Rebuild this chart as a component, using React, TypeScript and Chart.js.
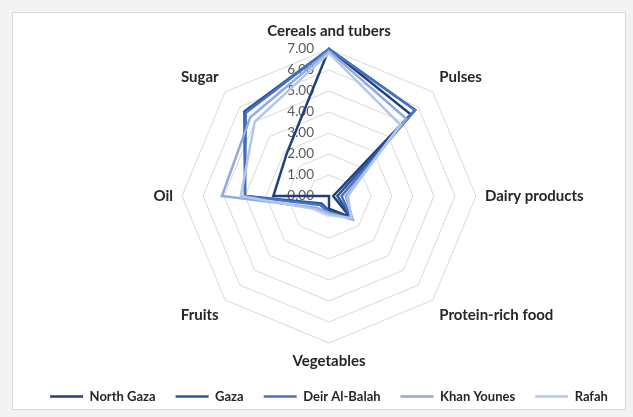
import React, { useEffect, useRef } from "react";
import { Chart, registerables } from "chart.js";

Chart.register(...registerables);

const categories = [
  "Cereals and tubers",
  "Pulses",
  "Dairy products",
  "Protein-rich food",
  "Vegetables",
  "Fruits",
  "Oil",
  "Sugar",
];

const seriesNames = ["North Gaza", "Gaza", "Deir Al-Balah", "Khan Younes", "Rafah"];

const northGaza = [7.0, 5.5, 0.2, 1.4, 0.6, 0.0, 2.65, 2.85];
const gaza = [7.0, 5.8, 0.4, 1.5, 0.7, 0.5, 4.0, 5.7];
const deirAlBalah = [7.0, 5.8, 0.6, 1.5, 0.8, 0.6, 4.0, 5.6];
const khanYounes = [6.9, 5.2, 0.8, 1.6, 0.8, 0.8, 5.1, 5.3];
const rafah = [6.8, 4.8, 0.9, 1.5, 0.9, 0.9, 4.2, 5.0];

const seriesValues = [northGaza, gaza, deirAlBalah, khanYounes, rafah];
const seriesColors = ["#233F7A", "#2F5597", "#4472C4", "#8FAADC", "#B4C7E7"];

const tickMin = 0;
const tickMax = 7;
const tickStep = 1;

const tickLabelPlugin = {
  id: "tickLabelPlugin",
  beforeDatasetsDraw(chart: any) {
    const s = chart.scales.r;
    const ctx = chart.ctx;
    ctx.save();
    ctx.font = "13.5px Lato";
    ctx.fillStyle = "#595959";
    ctx.textAlign = "right";
    ctx.textBaseline = "middle";
    for (const t of s.ticks) {
      const d = s.getDistanceFromCenterForValue(t.value);
      ctx.fillText(Number(t.value).toFixed(2), s.xCenter - 15, s.yCenter - d);
    }
    ctx.restore();
  },
};

export default function App() {
  const canvasRef = useRef<HTMLCanvasElement | null>(null);

  useEffect(() => {
    document.body.style.margin = "0";
    document.body.style.background = "#f3f3f3";
    const canvas = canvasRef.current;
    if (!canvas) return;
    const chart = new Chart(canvas, {
      type: "radar",
      data: {
        labels: categories,
        datasets: seriesNames.map((name, i) => ({
          label: name,
          data: seriesValues[i],
          borderColor: seriesColors[i],
          backgroundColor: seriesColors[i],
          borderWidth: 2.5,
          pointRadius: 0,
          fill: false,
          order: 5 - i,
        })),
      },
      plugins: [tickLabelPlugin],
      options: {
        animation: false,
        responsive: false,
        maintainAspectRatio: false,
        layout: { padding: { top: 22, bottom: 4, left: 25, right: 0 } },
        plugins: {
          tooltip: { enabled: false },
          legend: {
            position: "bottom",
            labels: {
              usePointStyle: true,
              pointStyle: "line",
              pointStyleWidth: 33,
              boxWidth: 33,
              boxHeight: 10,
              padding: 20,
              color: "#262626",
              font: { family: "Lato", weight: "bold", size: 13 },
              sort: (a: any, b: any) => a.datasetIndex - b.datasetIndex,
            },
          },
        },
        scales: {
          r: {
            min: tickMin,
            max: tickMax,
            ticks: {
              stepSize: tickStep,
              display: false,
            },
            grid: { color: "#d9d9d9", lineWidth: 1 },
            angleLines: { display: false },
            pointLabels: {
              color: "#262626",
              padding: 9,
              font: { family: "Lato", weight: "bold", size: 15 },
            },
          },
        },
      },
    });
    return () => chart.destroy();
  }, []);

  return (
    <div style={{ position: "relative", width: 633, height: 417 }}>
      <div
        style={{
          position: "absolute",
          left: 12,
          top: 12,
          width: 612,
          height: 396,
          background: "#ffffff",
          border: "1px solid #d9d9d9",
        }}
      />
      <canvas
        ref={canvasRef}
        width={633}
        height={417}
        style={{ position: "absolute", left: 0, top: 0, width: 633, height: 417 }}
      />
    </div>
  );
}
